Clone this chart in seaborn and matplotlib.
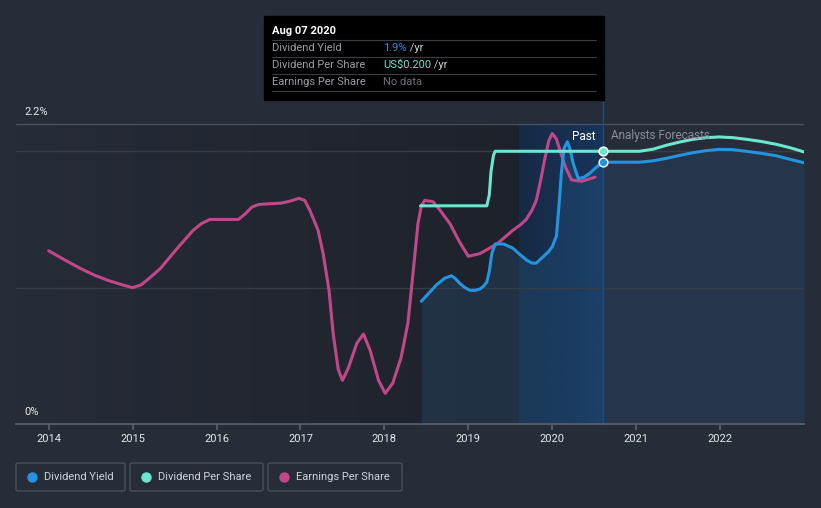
import numpy as np
import pandas as pd
import matplotlib.pyplot as plt
import seaborn as sns
from matplotlib.patches import FancyBboxPatch
from matplotlib.colors import LinearSegmentedColormap

# values (year as decimal, yield in %)
dy_year = [2018.44, 2018.53, 2018.62, 2018.72, 2018.80, 2018.84, 2018.90, 2018.96, 2019.02, 2019.08,
           2019.14, 2019.18, 2019.22, 2019.25, 2019.28, 2019.32, 2019.42, 2019.53, 2019.62, 2019.70,
           2019.76, 2019.81, 2019.88, 2019.95, 2020.00, 2020.05, 2020.08, 2020.11, 2020.14, 2020.18,
           2020.21, 2020.25, 2020.31, 2020.38, 2020.45, 2020.52, 2020.60]
dy_val = [0.90, 0.96, 1.02, 1.07, 1.087, 1.07, 1.03, 1.00, 0.98, 0.98,
          0.99, 1.01, 1.04, 1.12, 1.25, 1.32, 1.32, 1.29, 1.24, 1.20,
          1.18, 1.18, 1.22, 1.26, 1.30, 1.38, 1.60, 1.85, 2.02, 2.07,
          2.02, 1.91, 1.80, 1.81, 1.84, 1.88, 1.92]
dy_fc_year = [2020.60, 2021.04, 2021.20, 2021.36, 2021.52, 2021.68, 2021.84, 2021.99, 2022.15,
              2022.31, 2022.49, 2022.67, 2022.84, 2023.0]
dy_fc_val = [1.92, 1.92, 1.93, 1.948, 1.97, 1.99, 2.005, 2.014, 2.012, 2.00, 1.985, 1.967, 1.94, 1.916]

dps_year = [2018.43, 2019.22, 2019.25, 2019.27, 2019.30, 2019.32, 2020.60]
dps_val = [0.16, 0.16, 0.168, 0.185, 0.197, 0.20, 0.20]
dps_fc_year = [2020.60, 2021.04, 2021.20, 2021.36, 2021.52, 2021.68, 2021.84, 2021.99, 2022.15,
               2022.31, 2022.49, 2022.67, 2022.84, 2023.0]
dps_fc_val = [0.20, 0.20, 0.2015, 0.2044, 0.2068, 0.2088, 0.2100, 0.2105, 0.2100,
              0.2088, 0.2072, 0.2051, 0.2025, 0.1995]

eps_year = [2014.00, 2014.20, 2014.38, 2014.55, 2014.72, 2014.88, 2015.00, 2015.10, 2015.20, 2015.33,
            2015.52, 2015.72, 2015.82, 2015.92, 2016.00, 2016.26, 2016.34, 2016.42, 2016.50, 2016.77,
            2016.88, 2016.98, 2017.05, 2017.11, 2017.21, 2017.27, 2017.34, 2017.39, 2017.45, 2017.50,
            2017.57, 2017.67, 2017.75, 2017.83, 2017.93, 2018.01, 2018.10, 2018.20, 2018.28, 2018.34,
            2018.40, 2018.44, 2018.48, 2018.58, 2018.66, 2018.78, 2018.90, 2019.00, 2019.14, 2019.34,
            2019.53, 2019.62, 2019.69, 2019.76, 2019.81, 2019.86, 2019.91, 2019.96, 2020.00, 2020.05,
            2020.09, 2020.16, 2020.23, 2020.35, 2020.51]
eps_val = [1.27, 1.20, 1.14, 1.09, 1.05, 1.02, 1.00, 1.02, 1.07, 1.14,
           1.28, 1.42, 1.47, 1.50, 1.50, 1.50, 1.54, 1.59, 1.61, 1.62,
           1.635, 1.655, 1.64, 1.57, 1.42, 1.25, 0.98, 0.66, 0.40, 0.32,
           0.41, 0.59, 0.66, 0.54, 0.32, 0.225, 0.30, 0.49, 0.74, 1.10,
           1.47, 1.60, 1.64, 1.63, 1.57, 1.47, 1.33, 1.23, 1.25, 1.32,
           1.42, 1.46, 1.50, 1.57, 1.64, 1.78, 1.94, 2.08, 2.13, 2.09,
           2.01, 1.88, 1.79, 1.78, 1.81]

years = [2014, 2015, 2016, 2017, 2018, 2019, 2020, 2021, 2022]

BG = '#262c38'
BLUE = '#2394df'
TEAL = '#6ce5d1'
PINK = '#c2478a'

sns.set_theme(style='dark')
plt.rcParams['font.family'] = ['Roboto', 'DejaVu Sans']

fig = plt.figure(figsize=(8.21, 5.08), dpi=100, facecolor=BG)
ax = fig.add_axes([16 / 821, 1 - 424 / 508, 788 / 821, 324 / 508])
ax.set_facecolor(BG)
x0, x1 = 2013.61, 2023.0
ymax = 2.376
ax.set_xlim(x0, x1)
ax.set_ylim(0, ymax)

# darker "past" region with a soft gradient
grad = np.linspace(0, 1, 256).reshape(1, -1)
cm = LinearSegmentedColormap.from_list('past', ['#262c38', '#1c2029'])
ax.imshow(grad, extent=[x0, 2020.60, 0, 2.2], aspect='auto', cmap=cm, zorder=0)
# last-year highlight band
ax.imshow(grad, extent=[2019.60, 2020.60, 0, 2.2], aspect='auto',
          cmap=LinearSegmentedColormap.from_list('band', ['#172a44', '#173459']), zorder=0.5)

# fill under dividend yield
ax.fill_between(dy_year, dy_val, color='#2b6a9a', alpha=0.22, lw=0, zorder=1)
ax.fill_between(dy_fc_year, dy_fc_val, color='#25384d', alpha=0.9, lw=0, zorder=1)

for yv, c in [(1.0, '#363c48'), (2.0, '#363c48'), (2.2, '#4a505c')]:
    ax.axhline(yv, color=c, lw=1, zorder=1.5)
ax.axvline(2020.60, ymin=0, ymax=1, color='#1f4b80', lw=1, zorder=1.6)

sns.lineplot(x=eps_year, y=eps_val, ax=ax, color=PINK, lw=2.2, zorder=3)
sns.lineplot(x=dy_year, y=dy_val, ax=ax, color=BLUE, lw=2.2, zorder=4)
sns.lineplot(x=dy_fc_year, y=dy_fc_val, ax=ax, color=BLUE, lw=2.2, zorder=4)
ax.scatter([2020.60], [1.92], s=40, color=BLUE, edgecolor='white', lw=1, zorder=6)

# dividend per share on its own (hidden) scale
ax2 = ax.twinx()
ax2.set_ylim(0, 0.2 * ymax / 2.0)
ax2.set_xlim(x0, x1)
sns.lineplot(x=dps_year, y=dps_val, ax=ax2, color=TEAL, lw=2.2, zorder=4)
sns.lineplot(x=dps_fc_year, y=dps_fc_val, ax=ax2, color=TEAL, lw=2.2, zorder=4)
ax2.scatter([2020.60], [0.20], s=40, color=TEAL, edgecolor='white', lw=1, zorder=6)
ax2.set_yticks([])
ax2.set_ylabel('')
for a in (ax, ax2):
    for s in a.spines.values():
        s.set_visible(False)
    a.grid(False)

ax.spines['bottom'].set_visible(True)
ax.spines['bottom'].set_color('#5a606b')
ax.set_yticks([])
ax.set_xticks(years)
ax.set_xticklabels([str(y) for y in years], color='#e8e8e8', fontsize=8)
ax.tick_params(axis='x', bottom=True, length=4, color='#5a606b', pad=3)

fig.text(24 / 821, 1 - 112 / 508, '2.2%', color='#e8e8e8', fontsize=8, va='center')
fig.text(24 / 821, 1 - 412 / 508, '0%', color='#e8e8e8', fontsize=8, va='center')
fig.text(595 / 821, 1 - 136 / 508, 'Past', color='white', fontsize=8.5, ha='right', va='center')
fig.text(611 / 821, 1 - 136 / 508, 'Analysts Forecasts', color='#8a8f98', fontsize=8.5, va='center')

# tooltip
fig.patches.append(plt.Rectangle((264 / 821, 1 - 100 / 508), 340 / 821, 84 / 508,
                                 transform=fig.transFigure, color='black', zorder=10))
fig.text(272 / 821, 1 - 31 / 508, 'Aug 07 2020', color='white', fontsize=8,
         fontweight='bold', va='center', zorder=11)
rows = [('Dividend Yield', '1.9%', BLUE, ' /yr'),
        ('Dividend Per Share', 'US$0.200', TEAL, ' /yr'),
        ('Earnings Per Share', 'No data', '#6b6f76', '')]
for i, (lab, val, col, suf) in enumerate(rows):
    yy = 1 - (48 + 17 * i) / 508
    fig.text(272 / 821, yy, lab, color='#9a9ea5', fontsize=8, va='center', zorder=11)
    t = fig.text(383 / 821, yy, val, color=col, fontsize=8, va='center', zorder=11)
    if suf:
        fig.canvas.draw()
        bb = t.get_window_extent()
        fig.text(bb.x1 / 821, yy, suf, color='#cfd2d6', fontsize=8, va='center', zorder=11)
for yl in [40, 57, 74, 91]:
    fig.add_artist(plt.Line2D([272 / 821, 596 / 821], [1 - yl / 508] * 2, color='#3a3d42',
                              lw=0.8, transform=fig.transFigure, zorder=11))

# legend buttons
legend = [('Dividend Yield', BLUE, 16, 125), ('Dividend Per Share', TEAL, 130, 263),
          ('Earnings Per Share', PINK, 268, 402)]
for lab, col, xa, xb in legend:
    fig.patches.append(FancyBboxPatch((xa / 821, 1 - 491 / 508), (xb - xa) / 821, 28 / 508,
                                      boxstyle='round,pad=0,rounding_size=0.003',
                                      transform=fig.transFigure, facecolor=BG,
                                      edgecolor='#4a505b', lw=1))
    fig.add_artist(plt.Line2D([(xa + 16) / 821], [1 - 477 / 508], marker='o', ms=6.5,
                              color=col, transform=fig.transFigure))
    fig.text((xa + 28) / 821, 1 - 477 / 508, lab, color='#d0d3d8', fontsize=8, va='center')

fig.savefig('out.png', dpi=100, facecolor=BG)
